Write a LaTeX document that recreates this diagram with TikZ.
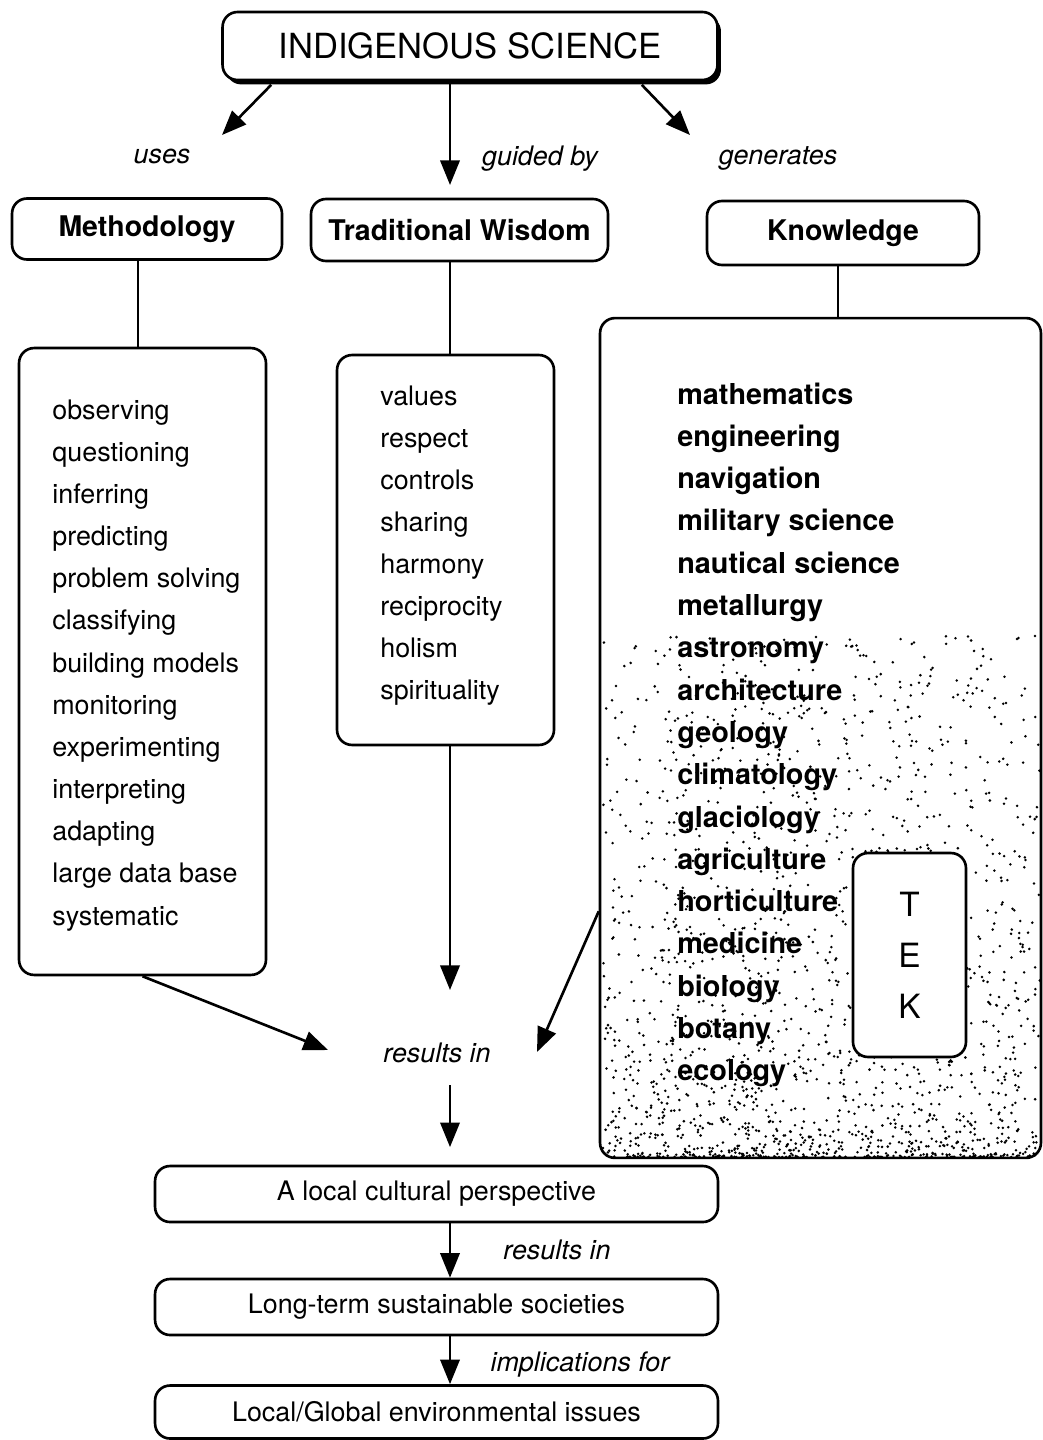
\documentclass[tikz,border=0pt]{standalone}
\usepackage{fontspec}
\setmainfont{TeX Gyre Heros}
\usetikzlibrary{arrows.meta, shadows}
\tikzset{
  box/.style = {draw, line width=1.5pt, rounded corners=0.3cm, inner sep=0pt, fill=white},
  conn/.style = {line width=1.5pt},
  arr/.style = {conn, -{Triangle[length=14pt, width=11pt]}},
  head/.style = {font=\fontsize{16.2}{19}\selectfont\bfseries},
  plain/.style = {font=\fontsize{15.3}{18}\selectfont},
  lbl/.style = {font=\fontsize{15.3}{18}\selectfont\itshape, anchor=base, inner sep=0pt},
  item/.style = {font=\fontsize{15.3}{18}\selectfont, anchor=base west, inner sep=0pt},
  kitem/.style = {font=\fontsize{16.4}{19}\selectfont\bfseries, anchor=base west, inner sep=0pt},
}

\begin{document}
\begin{tikzpicture}[x=0.02cm, y=-0.02cm]
  \useasboundingbox (0,0) rectangle (1043,1440);

  \node[box, drop shadow={shadow xshift=2pt, shadow yshift=-2.5pt, opacity=1, fill=black},
        minimum width=9.9cm, minimum height=1.36cm, font=\fontsize{19.7}{23}\selectfont]
        (sci) at (470,46) {INDIGENOUS SCIENCE};

  \node[box, head, minimum width=5.4cm,  minimum height=1.22cm] (meth) at (147,229)   {Methodology};
  \node[box, head, minimum width=5.94cm, minimum height=1.24cm] (wisd) at (459.5,230) {Traditional Wisdom};
  \node[box, head, minimum width=5.44cm, minimum height=1.28cm] (know) at (843,233)   {Knowledge};

  \coordinate (usestip) at (222,135);
  \coordinate (guidetip) at (450,185);
  \coordinate (gentip) at (690,135);
  \draw[arr] ([xshift=1cm, yshift=-2pt]sci.south west) -- (usestip);
  \draw[arr] (sci.south -| guidetip) -- (guidetip);
  \draw[arr] ([xshift=-1.54cm, yshift=-2pt]sci.south east) -- (gentip);
  \node[lbl] (uses) at (162,163) {uses};
  \node[lbl] (guided) at (540,165) {guided by};
  \node[lbl] (gener) at (778,164) {generates};

  % lists
  \node[box, minimum width=4.94cm, minimum height=12.54cm] (methbox) at (142.5,661.5) {};
  \node[box, minimum width=4.34cm, minimum height=7.8cm]   (wisdbox) at (445.5,550) {};
  \node[box, fill=none, minimum width=8.82cm, minimum height=16.8cm] (knowbox) at (820.5,738) {};

  \draw[conn] ([xshift=-0.18cm]meth.south) -- ([xshift=-0.18cm]meth.south |- methbox.north);
  \draw[conn] ([xshift=-0.19cm]wisd.south) -- ([xshift=-0.19cm]wisd.south |- wisdbox.north);
  \draw[conn] ([xshift=-0.1cm]know.south) -- ([xshift=-0.1cm]know.south |- knowbox.north);

  \begin{scope}
    \clip[rounded corners=0.3cm] (knowbox.south west) rectangle (knowbox.north east);
    \pgfmathsetseed{7}
    \foreach \d in {1,...,1800}
      \fill ({603+437*rnd},{1157-520*(0.001+rnd)^2.0}) circle (0.8pt);
  \end{scope}

  \foreach \w [count=\i from 0] in {observing, questioning, inferring, predicting,
      problem solving, classifying, building models, monitoring, experimenting,
      interpreting, adapting, large data base, systematic}
    \node[item] (m\i) at (52,{419+42.17*\i}) {\w};

  \foreach \w [count=\i from 0] in {values, respect, controls, sharing, harmony,
      reciprocity, holism, spirituality}
    \node[item] (w\i) at (380,{405+42.1*\i}) {\w};

  \foreach \w [count=\i from 0] in {mathematics, engineering, navigation,
      military science, nautical science, metallurgy, astronomy, architecture,
      geology, climatology, glaciology, agriculture, horticulture, medicine,
      biology, botany, ecology}
    \node[kitem] (k\i) at (677,{404+42.3*\i}) {\w};

  \node[box, minimum width=2.26cm, minimum height=4.08cm, align=center,
        font=\fontsize{19}{29}\selectfont] (tek) at (909.5,955) {T\\E\\K};

  % results
  \node[lbl] (res) at (437,1062) {results in};
  \coordinate (restipa) at (328,1050);
  \coordinate (restipb) at (450,990);
  \coordinate (restipc) at (537,1052);
  \coordinate (spine) at (450,1100);
  \draw[arr] (methbox.south) -- (restipa);
  \draw[arr] (wisdbox.south -| restipb) -- (restipb);
  \draw[arr] (knowbox.218.75) -- (restipc);

  \node[box, plain, minimum width=11.26cm, minimum height=1.12cm] (local) at (436.5,1194) {A local cultural perspective};
  \node[box, plain, minimum width=11.26cm, minimum height=1.12cm] (longterm) at (436.5,1307) {Long-term sustainable societies};
  \node[box, plain, minimum width=11.26cm, minimum height=1.06cm] (issues) at (436.5,1412) {Local/Global environmental issues};

  \draw[arr] (spine |- 0,1085) -- (local.north -| spine) [shorten >=10pt];
  \draw[arr] (local.south -| spine) -- (longterm.north -| spine);
  \draw[arr] (longterm.south -| spine) -- (issues.north -| spine);
  \node[lbl] (res2) at (557,1259) {results in};
  \node[lbl] (impl) at (580,1371) {implications for};
\end{tikzpicture}
\end{document}
